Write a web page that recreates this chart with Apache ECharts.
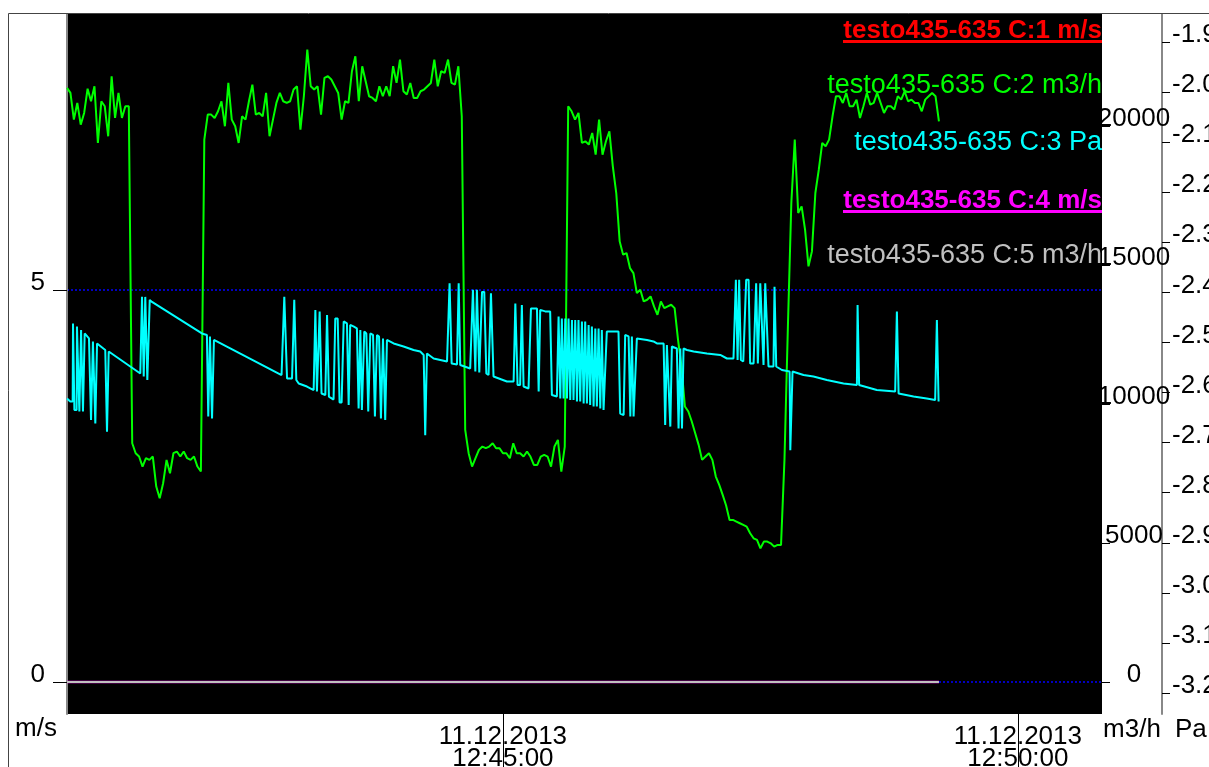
<!DOCTYPE html>
<html>
<head>
<meta charset="utf-8">
<script src="https://cdn.jsdelivr.net/npm/echarts@6/dist/echarts.min.js"></script>
<style>
html, body { margin: 0; padding: 0; background: #fff; }
#chart { width: 1209px; height: 767px; }
</style>
</head>
<body>
<div id="chart"></div>
<script>
// left edge of the plot is 11.12.2013 12:40:46, the view is about 603 s wide
const startTime = new Date(2013, 11, 11, 12, 40, 46).getTime()
const viewSeconds = 603
const flowStepSeconds = 2

// C:2 volume flow, m3/h, one reading every 2 s
const flowM3h = [
  21370, 21190, 20230, 20830, 20050, 20470, 21340, 20890, 21430, 19390,
  20890, 20710, 19630, 21790, 20290, 21190, 20290, 20710, 20710, 8590,
  8230, 8110, 7750, 8050, 7990, 8110, 7030, 6610, 7150, 7990,
  7510, 8230, 8290, 8110, 8290, 8050, 7990, 8110, 7750, 7570,
  19510, 20410, 20410, 20290, 20530, 20890, 19990, 21550, 20230, 19990,
  19390, 20350, 20230, 20890, 21490, 20410, 20470, 20350, 21190, 19630,
  20230, 20830, 21190, 20890, 20830, 20890, 21310, 21430, 19870, 21070,
  22750, 21430, 21310, 21430, 20410, 21730, 21790, 21670, 21430, 21190,
  20230, 20890, 20830, 21970, 22510, 20890, 22150, 21610, 21070, 21010,
  20890, 21430, 21070, 21430, 21070, 22150, 21550, 22390, 21250, 21130,
  21550, 21010, 21010, 21250, 21310, 21430, 21550, 22390, 21430, 21970,
  21910, 22390, 21550, 21490, 22150, 20350, 9070, 8230, 7750, 8050,
  8350, 8470, 8410, 8470, 8590, 8410, 8410, 8230, 8230, 8050,
  8590, 8230, 8230, 8110, 8290, 8110, 7810, 7810, 8110, 8170,
  8110, 7750, 8470, 8710, 7570, 8470, 20710, 20530, 20230, 20470,
  19390, 19450, 19330, 19750, 18970, 20230, 18970, 19450, 19810, 18550,
  17590, 15850, 15370, 15430, 14890, 14710, 13990, 14110, 13690, 13750,
  13870, 13510, 13210, 13690, 13450, 13510, 13570, 13450, 12310, 11350,
  9910, 9730, 9370, 8950, 8530, 7990, 8110, 8230, 7990, 7390,
  7090, 6730, 6350, 5830, 5830, 5770, 5710, 5650, 5590, 5350,
  5170, 5110, 4810, 5050, 5050, 4990, 4870, 4930, 4930, 7990,
  12790, 17230, 19510, 16870, 17110, 16270, 14950, 15490, 17590, 18430,
  19390, 19270, 19510, 20350, 21070, 21070, 20830, 21190, 20710, 20710,
  20950, 20290, 20710, 21190, 20770, 20830, 21190, 20830, 20470, 20710,
  20710, 20590, 21070, 20950, 21250, 20890, 20950, 20830, 20830, 20530,
  20950, 21070, 21190, 21070, 20170
]

// C:3 pressure, Pa, read at the corners of the trace (seconds after start)
const pressureSeconds = [
  0, 1.9, 3.3, 3.5, 4.3, 5.6, 5.8, 7.2, 8.2, 9.3, 10.3, 12.8, 13.6, 14.0, 15.1, 16.5, 17.5, 22.3, 23.3, 24.3,
  42.7, 43.7, 44.7, 45.6, 46.8, 48.2, 49.5, 78.6, 81.5, 82.3, 83.3, 84.5, 85.6, 125.0, 126.6,
  128.2, 131.1, 132.4, 133.6, 135.0, 139.8, 143.7, 144.7, 145.6, 147.2, 148.3, 150.5, 151.5, 152.6,
  155.3, 156.3, 157.7, 158.8, 160.0, 161.2, 163.1, 164.1, 165.0, 166.9, 168.9, 169.9, 170.9, 171.8,
  173.2, 174.4, 175.5, 176.7, 178.3, 179.4, 180.6, 181.8, 182.9, 184.1, 185.4, 186.4, 190.3, 196.1,
  201.9, 205.8, 207.8, 208.7, 209.7, 213.6, 221.4, 222.9, 224.1, 227.2, 228.2, 229.1, 234.9, 236.5,
  237.9, 238.8, 240.2, 241.8, 243.1, 244.3, 245.6, 247.0, 248.5, 256.3, 260.2, 261.2, 262.5, 264.0,
  265.0, 266.0, 268.9, 270.3, 273.8, 274.8, 275.7, 278.6, 281.5, 282.5, 285.4, 286.4, 287.4, 288.3,
  289.3, 290.3, 291.3, 292.2, 293.2, 294.2, 295.1, 296.1, 297.1, 298.0, 299.0, 300.0, 301.0, 301.9,
  302.9, 303.9, 304.8, 305.8, 306.8, 307.8, 308.7, 309.7, 310.7, 311.6, 312.6, 313.6, 314.5, 321.3,
  322.3, 324.3, 325.2, 327.2, 328.2, 329.1, 330.1, 331.1, 332.0, 337.9, 341.7, 343.7, 347.6, 348.5,
  349.5, 350.5, 351.5, 352.4, 355.3, 356.3, 357.3, 358.3, 359.2, 361.2, 365.1, 372.8, 380.6, 384.5,
  388.3, 389.7, 390.7, 391.6, 392.6, 394.0, 395.7, 397.1, 398.0, 400.0, 401.5, 402.5, 403.9, 404.8,
  405.8, 406.8, 407.8, 408.7, 411.6, 412.2, 413.2, 416.5, 421.0, 421.4, 422.7, 429.1, 434.9, 442.7,
  452.4, 460.2, 460.6, 461.5, 462.1, 471.8, 482.5, 483.5, 484.5, 493.2, 500.9, 505.8, 506.8, 507.8
]
const pressurePa = [
  -2.612, -2.618, -2.618, -2.462, -2.635, -2.635, -2.468, -2.638, -2.475, -2.638, -2.482, -2.492, -2.492, -2.655, -2.498, -2.662, -2.502, -2.515, -2.678, -2.518,
  -2.562, -2.409, -2.568, -2.409, -2.575, -2.415, -2.419, -2.482, -2.485, -2.648, -2.488, -2.652, -2.495, -2.565, -2.409,
  -2.572, -2.572, -2.415, -2.575, -2.582, -2.588, -2.595, -2.435, -2.598, -2.438, -2.602, -2.605, -2.445, -2.608,
  -2.614, -2.452, -2.452, -2.620, -2.620, -2.458, -2.462, -2.625, -2.465, -2.468, -2.472, -2.632, -2.475, -2.635,
  -2.478, -2.482, -2.638, -2.482, -2.485, -2.648, -2.485, -2.488, -2.652, -2.492, -2.655, -2.495, -2.502, -2.508,
  -2.515, -2.518, -2.525, -2.685, -2.522, -2.532, -2.538, -2.382, -2.542, -2.544, -2.382, -2.545, -2.552, -2.395,
  -2.558, -2.395, -2.560, -2.399, -2.399, -2.562, -2.565, -2.402, -2.568, -2.578, -2.578, -2.422, -2.585, -2.585,
  -2.425, -2.588, -2.592, -2.432, -2.432, -2.598, -2.435, -2.438, -2.438, -2.605, -2.608, -2.448, -2.612, -2.452,
  -2.612, -2.452, -2.612, -2.452, -2.615, -2.455, -2.615, -2.455, -2.618, -2.455, -2.618, -2.458, -2.622, -2.458,
  -2.622, -2.465, -2.625, -2.468, -2.628, -2.472, -2.628, -2.472, -2.632, -2.475, -2.635, -2.635, -2.478, -2.478,
  -2.642, -2.645, -2.485, -2.488, -2.648, -2.488, -2.648, -2.648, -2.492, -2.495, -2.498, -2.502, -2.502, -2.665,
  -2.505, -2.508, -2.668, -2.508, -2.512, -2.672, -2.512, -2.672, -2.512, -2.515, -2.518, -2.522, -2.525, -2.532,
  -2.532, -2.375, -2.535, -2.375, -2.535, -2.538, -2.375, -2.375, -2.542, -2.542, -2.382, -2.542, -2.382, -2.382,
  -2.545, -2.382, -2.382, -2.548, -2.548, -2.389, -2.548, -2.555, -2.558, -2.715, -2.558, -2.565, -2.568, -2.575,
  -2.582, -2.585, -2.425, -2.585, -2.588, -2.595, -2.598, -2.438, -2.602, -2.608, -2.612, -2.615, -2.455, -2.618
]

// C:1, C:4 (m/s) and C:5 (m3/h) stay at zero for the whole recording
const zeroSeconds = [0, 508]
const zeroValues = [0, 0]

const msTicks = [0, 5]
const m3hTicks = [0, 5000, 10000, 15000, 20000]
const paTicks = [-1.9, -2.0, -2.1, -2.2, -2.3, -2.4, -2.5, -2.6, -2.7, -2.8, -2.9, -3.0, -3.1, -3.2]
const timeTicks = [new Date(2013, 11, 11, 12, 45, 0).getTime(), new Date(2013, 11, 11, 12, 50, 0).getTime()]

const channelNames = [
  'testo435-635 C:1 m/s',
  'testo435-635 C:2 m3/h',
  'testo435-635 C:3 Pa',
  'testo435-635 C:4 m/s',
  'testo435-635 C:5 m3/h'
]

const FONT = '"Liberation Sans", Arial, sans-serif'
const pad = (n) => String(n).padStart(2, '0')
const fmtTime = (v) => {
  const d = new Date(v)
  return pad(d.getDate()) + '.' + pad(d.getMonth() + 1) + '.' + d.getFullYear() + '\n' +
    pad(d.getHours()) + ':' + pad(d.getMinutes()) + ':' + pad(d.getSeconds())
}
const pairs = (secs, vals) => secs.map((s, i) => [startTime + s * 1000, vals[i]])
const flowData = flowM3h.map((v, i) => [startTime + i * flowStepSeconds * 1000, v])

const legendY = [31, 86, 143, 201, 256]
const legendColor = ['#ff0000', '#00ff00', '#00ffff', '#ff00ff', '#c0c0c0']
const legendBold = [true, false, false, true, false]

const graphics = [
  { type: 'polyline', z: 5, shape: { points: [[8.5, 767], [8.5, 13.5], [1209, 13.5]] }, style: { stroke: '#444', lineWidth: 1, fill: null } },
  { type: 'text', z: 5, style: { text: 'm/s', x: 36, y: 729, font: '26px ' + FONT, fill: '#000', align: 'center', verticalAlign: 'middle', textAlign: 'center', textVerticalAlign: 'middle' } },
  { type: 'text', z: 5, style: { text: 'm3/h', x: 1132, y: 730, font: '26px ' + FONT, fill: '#000', align: 'center', verticalAlign: 'middle', textAlign: 'center', textVerticalAlign: 'middle' } },
  { type: 'text', z: 5, style: { text: 'Pa', x: 1175, y: 730, font: '26px ' + FONT, fill: '#000', align: 'left', verticalAlign: 'middle', textAlign: 'left', textVerticalAlign: 'middle' } },
  { type: 'rect', z: 1, shape: { x: 843, y: 40, width: 259, height: 3 }, style: { fill: '#ff0000' } },
  { type: 'rect', z: 1, shape: { x: 843, y: 210, width: 259, height: 3 }, style: { fill: '#ff00ff' } }
]
channelNames.forEach((name, i) => {
  graphics.push({
    type: 'text', z: 1,
    style: {
      text: name, x: 1102, y: legendY[i],
      font: (legendBold[i] ? 'bold 26px ' : '27px ') + FONT,
      fill: legendColor[i],
      align: 'right', verticalAlign: 'middle', textAlign: 'right', textVerticalAlign: 'middle'
    }
  })
})

const line = (name, yAxisIndex, data, color, width, z) => ({
  name, type: 'line', yAxisIndex, data,
  symbol: 'none', showSymbol: false, z,
  lineStyle: { color, width },
  itemStyle: { color },
  emphasis: { disabled: true }
})

// axis labels sit just above their tick, like the original software draws them
const tickLabel = { fontSize: 26, color: '#000', verticalAlign: 'bottom', lineHeight: 14, fontFamily: FONT }

const chart = echarts.init(document.getElementById('chart'))
chart.setOption({
  animation: false,
  textStyle: { fontFamily: FONT },
  grid: {
    left: 67, top: 14, right: 107, bottom: 53,
    show: true, backgroundColor: '#000', borderWidth: 0,
    containLabel: false, outerBoundsMode: 'none'
  },
  graphic: graphics,
  xAxis: {
    type: 'value',
    min: startTime,
    max: startTime + viewSeconds * 1000,
    axisLine: { show: false, onZero: false },
    axisTick: { show: true, customValues: timeTicks, length: 53, lineStyle: { color: '#000', width: 1 } },
    axisLabel: { customValues: timeTicks, formatter: fmtTime, margin: 12, fontSize: 26, lineHeight: 22, color: '#000', fontFamily: FONT },
    splitLine: { show: false }
  },
  yAxis: [
    {
      type: 'value', position: 'left', min: -0.408, max: 8.52,
      axisLine: { show: true, onZero: false, lineStyle: { color: '#888', width: 2 } },
      axisTick: { show: true, customValues: msTicks, length: 14, lineStyle: { color: '#000', width: 1 } },
      axisLabel: Object.assign({ customValues: msTicks, margin: 22, formatter: (v) => String(v) }, tickLabel),
      splitLine: { show: true, lineStyle: { color: '#0000ff', type: [2, 2], width: 1.5 } }
    },
    {
      type: 'value', position: 'right', min: -1151, max: 24029,
      axisLine: { show: false, onZero: false },
      axisTick: { show: true, customValues: m3hTicks, length: 8, lineStyle: { color: '#000', width: 1 } },
      axisLabel: Object.assign({ customValues: m3hTicks, margin: 32, align: 'center', formatter: (v) => String(v) }, tickLabel),
      splitLine: { show: false }
    },
    {
      type: 'value', position: 'right', offset: 60, min: -3.2419, max: -1.8441,
      axisLine: { show: true, onZero: false, lineStyle: { color: '#888', width: 2 } },
      axisTick: { show: true, customValues: paTicks, length: 8, lineStyle: { color: '#000', width: 1 } },
      axisLabel: Object.assign({ customValues: paTicks, margin: 10, formatter: (v) => v.toFixed(1) }, tickLabel),
      splitLine: { show: false }
    }
  ],
  series: [
    line(channelNames[0], 0, pairs(zeroSeconds, zeroValues), '#ff0000', 2, 3),
    line(channelNames[1], 1, flowData, '#00ff00', 2, 3),
    line(channelNames[2], 2, pairs(pressureSeconds, pressurePa), '#00ffff', 2, 3),
    line(channelNames[3], 0, pairs(zeroSeconds, zeroValues), '#ff00ff', 2.5, 3),
    line(channelNames[4], 1, pairs(zeroSeconds, zeroValues), '#c0c0c0', 2, 6)
  ]
})
</script>
</body>
</html>
